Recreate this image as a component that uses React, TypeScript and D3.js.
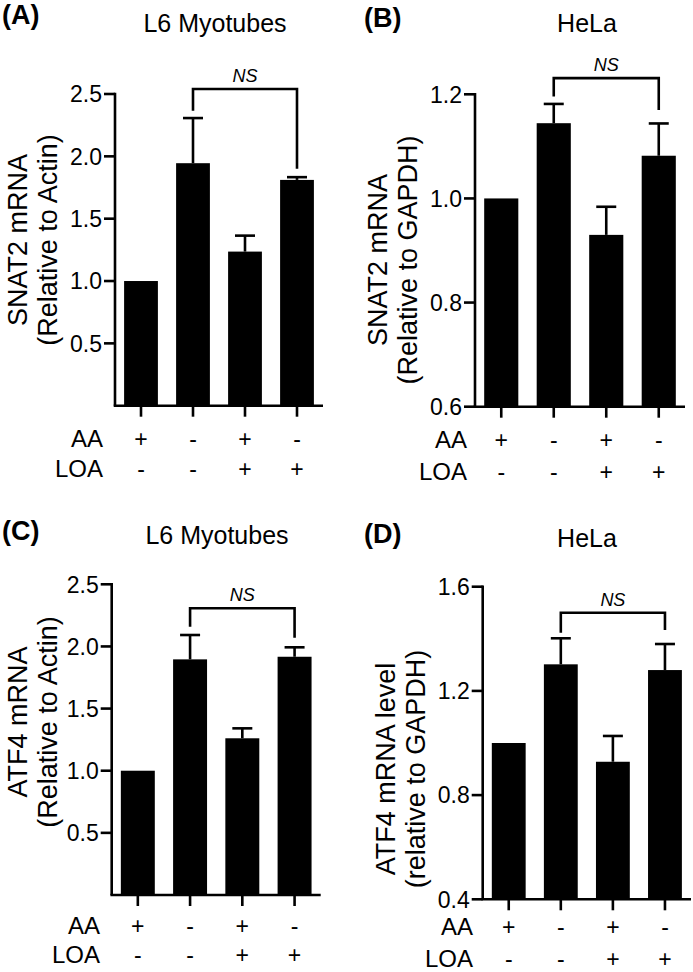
import React from "react";
import * as d3 from "d3";

const categories = ["c1", "c2", "c3", "c4"];
const aaSigns = ["+", "-", "+", "-"];
const loaSigns = ["-", "-", "+", "+"];

const valuesA = [1.0, 1.945, 1.236, 1.811];
const errorsA = [0, 0.362, 0.128, 0.022];
const ticksA = [0.5, 1.0, 1.5, 2.0, 2.5];

const valuesB = [1.0, 1.1445, 0.93, 1.082];
const errorsB = [0, 0.037, 0.054, 0.062];
const ticksB = [0.6, 0.8, 1.0, 1.2];

const valuesC = [1.0, 1.896, 1.261, 1.917];
const errorsC = [0, 0.196, 0.08, 0.076];
const ticksC = [0.5, 1.0, 1.5, 2.0, 2.5];

const valuesD = [1.0, 1.302, 0.928, 1.28];
const errorsD = [0, 0.1, 0.099, 0.1];
const ticksD = [0.4, 0.8, 1.2, 1.6];

const FONT = "'Liberation Sans', Arial, Helvetica, sans-serif";

type PanelCfg = {
  letter: string;
  title: string;
  yLabel1: string;
  yLabel2: string;
  values: number[];
  errors: number[];
  ticks: number[];
  domain: [number, number];
  tickFmt: (v: number) => string;
  x0: number;
  x1: number;
  yTop: number;
  yBottom: number;
  letterX: number;
  letterY: number;
  titleX: number;
  titleY: number;
  yl1X: number;
  yl2X: number;
  ylY: number;
  bracket: [number, number, number];
  rowX: number;
  rowY1: number;
  rowY2: number;
};

const fmt1 = (v: number) => d3.format(".1f")(v);

const panels: PanelCfg[] = [
  {
    letter: "(A)", title: "L6 Myotubes", yLabel1: "SNAT2 mRNA", yLabel2: "(Relative to Actin)",
    values: valuesA, errors: errorsA, ticks: ticksA, domain: [0, 2.5], tickFmt: fmt1,
    x0: 115, x1: 323, yTop: 94, yBottom: 405.7,
    letterX: 2, letterY: 24, titleX: 215, titleY: 32,
    yl1X: 27, yl2X: 57, ylY: 240,
    bracket: [2.54, 2.365, 1.9],
    rowX: 103, rowY1: 447, rowY2: 477,
  },
  {
    letter: "(B)", title: "HeLa", yLabel1: "SNAT2 mRNA", yLabel2: "(Relative to GAPDH)",
    values: valuesB, errors: errorsB, ticks: ticksB, domain: [0.6, 1.2], tickFmt: fmt1,
    x0: 475, x1: 685, yTop: 94.3, yBottom: 406.7,
    letterX: 364, letterY: 27, titleX: 587, titleY: 32,
    yl1X: 387, yl2X: 417, ylY: 260,
    bracket: [1.231, 1.196, 1.17],
    rowX: 467, rowY1: 448, rowY2: 480,
  },
  {
    letter: "(C)", title: "L6 Myotubes", yLabel1: "ATF4 mRNA", yLabel2: "(Relative to Actin)",
    values: valuesC, errors: errorsC, ticks: ticksC, domain: [0, 2.5], tickFmt: fmt1,
    x0: 111.7, x1: 320.7, yTop: 584.3, yBottom: 895,
    letterX: 2, letterY: 540, titleX: 217, titleY: 544,
    yl1X: 27, yl2X: 57, ylY: 722,
    bracket: [2.307, 2.159, 2.07],
    rowX: 100, rowY1: 934, rowY2: 963,
  },
  {
    letter: "(D)", title: "HeLa", yLabel1: "ATF4 mRNA level", yLabel2: "(relative to GAPDH)",
    values: valuesD, errors: errorsD, ticks: ticksD, domain: [0.4, 1.6], tickFmt: fmt1,
    x0: 482.7, x1: 691, yTop: 586.7, yBottom: 899.3,
    letterX: 364, letterY: 543, titleX: 587, titleY: 547,
    yl1X: 395, yl2X: 425, ylY: 769,
    bracket: [1.5, 1.423, 1.434],
    rowX: 473, rowY1: 935, rowY2: 967,
  },
];

function Panel({ p }: { p: PanelCfg }) {
  const x = d3
    .scaleBand<string>()
    .domain(categories)
    .range([p.x0, p.x1])
    .paddingInner(0.35)
    .paddingOuter(0.175);
  const y = d3.scaleLinear().domain(p.domain).range([p.yBottom, p.yTop]);
  const bw = x.bandwidth();
  const cx = (c: string) => (x(c) as number) + bw / 2;
  const capHalf = 10;
  const sw = 2.6;
  const [bY, bL, bR] = p.bracket;
  const lx = cx(categories[1]);
  const rx = cx(categories[3]);

  return (
    <g>
      <text x={p.letterX} y={p.letterY} fontFamily={FONT} fontWeight="bold" fontSize={27}>
        {p.letter}
      </text>
      <text x={p.titleX} y={p.titleY} fontFamily={FONT} fontSize={25} textAnchor="middle">
        {p.title}
      </text>
      <text
        transform={`translate(${p.yl1X},${p.ylY}) rotate(-90)`}
        fontFamily={FONT}
        fontSize={27}
        textAnchor="middle"
      >
        {p.yLabel1}
      </text>
      <text
        transform={`translate(${p.yl2X},${p.ylY}) rotate(-90)`}
        fontFamily={FONT}
        fontSize={27}
        textAnchor="middle"
      >
        {p.yLabel2}
      </text>

      {categories.map((c, i) => (
        <rect
          key={c}
          x={x(c)}
          y={y(p.values[i])}
          width={bw}
          height={p.yBottom - y(p.values[i])}
          fill="#000"
        />
      ))}
      {categories.map((c, i) =>
        p.errors[i] > 0 ? (
          <g key={"e" + c} stroke="#000" strokeWidth={sw}>
            <line x1={cx(c)} x2={cx(c)} y1={y(p.values[i])} y2={y(p.values[i] + p.errors[i])} />
            <line
              x1={cx(c) - capHalf}
              x2={cx(c) + capHalf}
              y1={y(p.values[i] + p.errors[i])}
              y2={y(p.values[i] + p.errors[i])}
            />
          </g>
        ) : null
      )}

      <line x1={p.x0} x2={p.x0} y1={p.yTop - 1.3} y2={p.yBottom} stroke="#000" strokeWidth={sw} />
      {p.ticks.map((t) => (
        <g key={"t" + t}>
          <line x1={p.x0 - 11} x2={p.x0} y1={y(t)} y2={y(t)} stroke="#000" strokeWidth={sw} />
          <text
            x={p.x0 - 13}
            y={y(t)}
            dy="0.36em"
            fontFamily={FONT}
            fontSize={23}
            textAnchor="end"
          >
            {p.tickFmt(t)}
          </text>
        </g>
      ))}
      <line x1={p.x0 - 1.3} x2={p.x1} y1={p.yBottom} y2={p.yBottom} stroke="#000" strokeWidth={sw} />
      {categories.map((c) => (
        <line
          key={"xt" + c}
          x1={cx(c)}
          x2={cx(c)}
          y1={p.yBottom}
          y2={p.yBottom + 11}
          stroke="#000"
          strokeWidth={sw}
        />
      ))}

      <text x={p.rowX} y={p.rowY1} fontFamily={FONT} fontSize={24} textAnchor="end">AA</text>
      <text x={p.rowX} y={p.rowY2} fontFamily={FONT} fontSize={24} textAnchor="end">LOA</text>
      {categories.map((c, i) => (
        <g key={"r" + c}>
          <text x={cx(c)} y={p.rowY1} fontFamily={FONT} fontSize={23} textAnchor="middle">
            {aaSigns[i]}
          </text>
          <text x={cx(c)} y={p.rowY2} fontFamily={FONT} fontSize={23} textAnchor="middle">
            {loaSigns[i]}
          </text>
        </g>
      ))}

      <path
        d={`M${lx},${y(bL)}V${y(bY)}H${rx}V${y(bR)}`}
        fill="none"
        stroke="#000"
        strokeWidth={sw}
      />
      <text
        x={(lx + rx) / 2}
        y={y(bY) - 7}
        fontFamily={FONT}
        fontSize={18}
        fontStyle="italic"
        textAnchor="middle"
      >
        NS
      </text>
    </g>
  );
}

export default function App() {
  return (
    <svg
      width={693}
      height={972}
      viewBox="0 0 693 972"
      style={{ position: "absolute", left: 0, top: 0, background: "#fff" }}
    >
      <rect x={0} y={0} width={693} height={972} fill="#fff" />
      {panels.map((p) => (
        <Panel key={p.letter} p={p} />
      ))}
    </svg>
  );
}
